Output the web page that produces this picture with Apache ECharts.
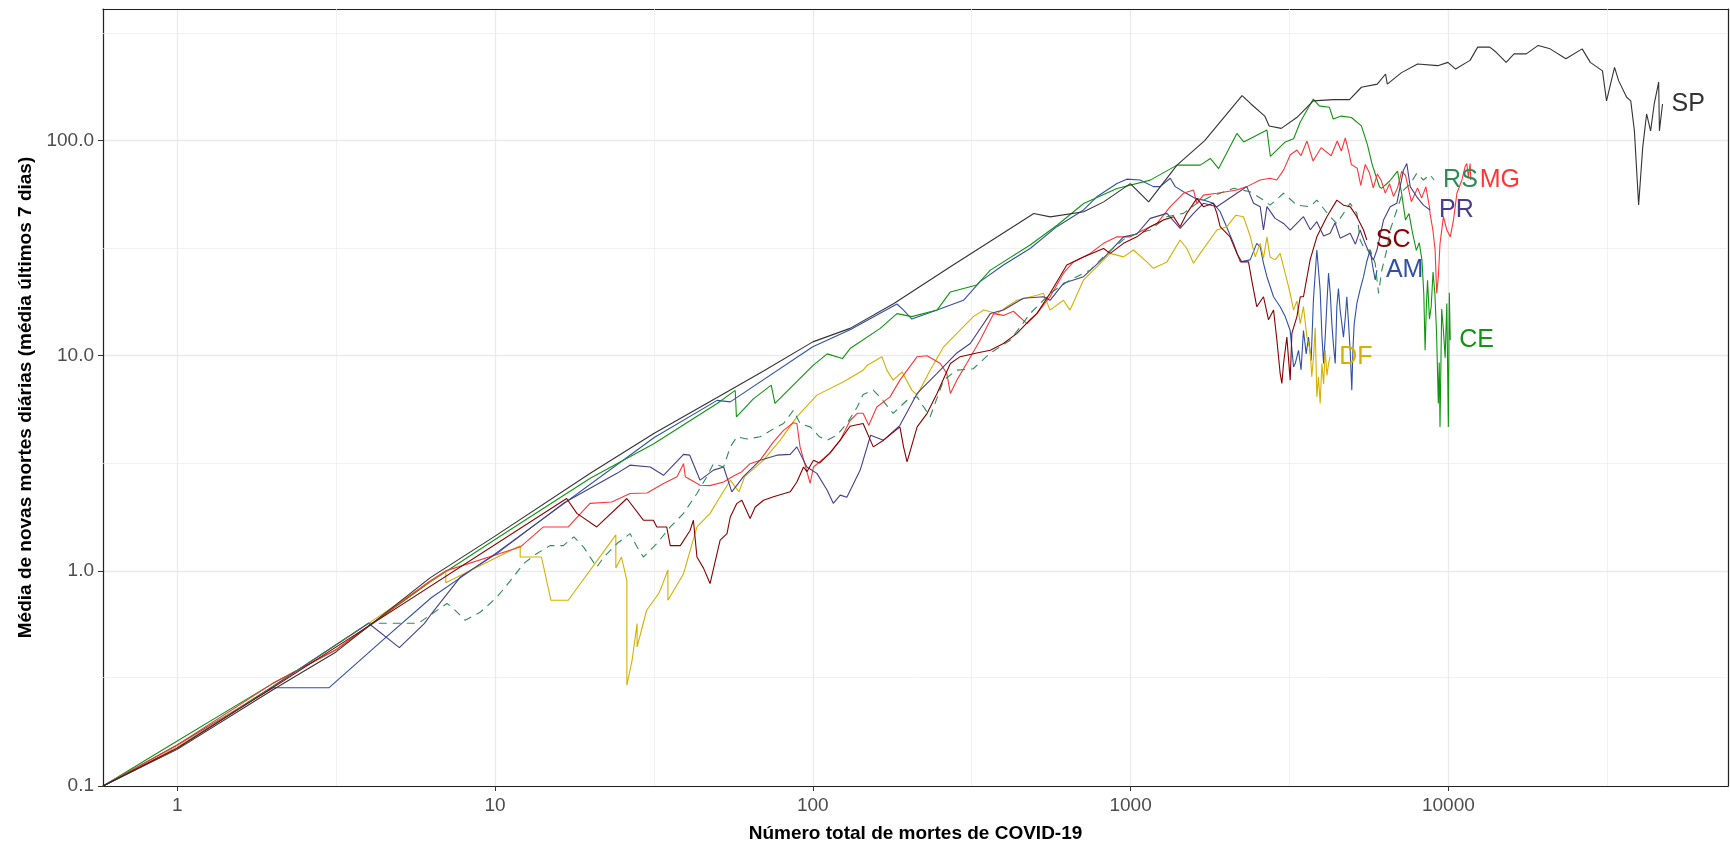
<!DOCTYPE html>
<html><head><meta charset="utf-8">
<script src="https://cdn.jsdelivr.net/npm/echarts@6/dist/echarts.min.js"></script>
<style>html,body{margin:0;padding:0;background:#fff}#c{width:1730px;height:842px}</style>
</head><body><div id="c"></div>
<script>
const states = ['AM','CE','DF','MG','PR','RS','SC','SP'];
const xTicks = [1,10,100,1000,10000];
const yTicks = [0.1,1,10,100];
const minorXBreaks = [3.1623,31.623,316.23,3162.3,31623];
const minorYBreaks = [0.31623,3.1623,31.623,316.23];

const AM = [[0.584,0.1],[1,0.155],[2,0.286],[3,0.286],[4.6,0.5],[6.3,0.75],[10,1.2],[31.7,4.17],[50,6.2],[55,6.1],[100,11.0],[131,13.2],[184,17.4],[193,16.3],[205,14.8],[246,16.3],[298,18.1],[336,22.1],[398,26.4],[483,31.5],[586,39.8],[711,47.6],[783,54.8],[906,63.2],[973,66.2],[1072,65.6],[1180,61.1],[1239,61.1],[1333,66.8],[1382,61.1],[1467,57.8],[1596,53.9],[1695,52.9],[1823,51.1],[1914,46.7],[1985,41.2],[2109,33.3],[2214,27.3],[2379,27.9],[2495,33.3],[2558,32.1],[2620,26.9],[2686,23.3],[2818,18.8],[2956,16.9],[3067,15.2],[3179,13.1],[3257,8.87],[3297,9.2],[3377,10.6],[3440,8.6],[3500,13.1],[3570,10.2],[3629,12.2],[3700,9.5],[3762,18.2],[3856,31.0],[3950,20.2],[4000,12.5],[4049,9.2],[4097,12.2],[4150,17.8],[4197,24.2],[4250,19.5],[4299,14.1],[4350,11.2],[4405,9.2],[4458,16.9],[4510,20.5],[4566,16.3],[4620,14.2],[4677,12.2],[4740,15.1],[4792,18.8],[4850,14.3],[4909,10.6],[4968,6.92],[5010,10.8],[5056,14.1],[5154,17.5],[5280,20.4],[5409,23.3],[5540,27.5],[5675,31],[5780,26],[5886,22.5],[5960,25]];

const CE = [[0.584,0.1],[1,0.162],[2,0.3],[3.16,0.43],[6.26,0.89],[10,1.4],[20,2.7],[31.6,3.9],[50,6.0],[57,6.9],[57.5,5.2],[65,6.3],[74,7.3],[76,6.0],[100,9.0],[111,10.2],[124,9.7],[131,10.8],[163,13.4],[184,15.7],[205,15.2],[246,16.3],[271,19.8],[328,21.3],[362,25],[483,32.7],[587,40.4],[712,51],[906,59.9],[1153,65.5],[1400,76.9],[1657,76.9],[1782,82.6],[1893,74.1],[2160,108],[2270,98.6],[2686,112],[2754,84.4],[3069,98.6],[3258,102],[3420,122],[3758,156],[3923,145],[4221,143],[4343,126],[4606,130],[4955,128],[5325,117],[5560,96],[5750,78.2],[5806,74.6],[6070,61],[6160,60],[6530,64.7],[6920,72.1],[7130,56.7],[7330,42.7],[7520,45.8],[7720,37],[7930,30.9],[8100,33.5],[8260,27.8],[8370,19.4],[8450,10.6],[8530,17.2],[8600,22.4],[8720,14.8],[8830,16.9],[8950,24.5],[9070,19.4],[9180,12.8],[9300,6.0],[9360,9.3],[9415,4.67],[9530,16.5],[9650,13.1],[9770,9.8],[9890,17.5],[10000,4.67],[10070,19.6],[10140,11.8]];

const DF = [[0.584,0.1],[1,0.152],[2,0.29],[4,0.57],[7,1.0],[7,0.88],[12,1.31],[12,1.16],[14,1.16],[15,0.73],[17,0.73],[24,1.47],[24,1.03],[25,1.16],[26,0.9],[26,0.294],[27,0.384],[28,0.569],[28,0.443],[30,0.656],[31.6,0.73],[32.7,0.783],[33.4,0.84],[35,1.01],[35,0.73],[39.2,0.97],[43.2,1.6],[47.5,1.85],[51.1,2.21],[55,2.64],[58.6,2.33],[61,2.74],[70,3.27],[79,4.05],[89.1,5.2],[103,6.56],[125,7.57],[144,8.57],[148,9.0],[165,9.9],[171,8.57],[179,7.7],[191,8.4],[205,6.92],[213,6.56],[234,8.57],[258,11],[284,12.7],[320,15.2],[345,16.3],[380,15.7],[408,16.9],[439,18.1],[507,19.1],[532,19.5],[558,16.3],[615,18.1],[645,16.3],[711,22.5],[783,25.9],[863,29.9],[950,28.8],[1021,31],[1125,27.3],[1180,25.5],[1302,27.3],[1432,34.5],[1503,31.5],[1578,26.9],[1656,29.9],[1869,38.4],[2009,39.8],[2145,45],[2265,44.3],[2379,36],[2467,28.8],[2558,33.3],[2620,28.4],[2686,35.7],[2748,28.8],[2851,27.9],[2956,29.9],[3103,22.5],[3179,19.5],[3257,16.3],[3338,18],[3420,14.1],[3500,16.9],[3589,12.2],[3673,10.6],[3717,7.98],[3766,9.9],[3810,13.5],[3856,6.44],[3902,7.98],[3950,6.0],[4000,9.2],[4050,7.4],[4097,10.6],[4150,8.1],[4197,9.2],[4246,9.9]];

const MG = [[0.584,0.1],[1,0.155],[2,0.3],[3.16,0.43],[6.26,0.9],[7,1.0],[12,1.29],[14.2,1.6],[17,1.6],[19.9,2.06],[23.3,2.09],[26.6,2.29],[30.1,2.3],[33.9,2.55],[37.4,2.74],[39.2,3.15],[39.7,2.74],[44.2,2.5],[47.5,2.49],[52.4,2.59],[56.3,2.76],[59.8,2.89],[63.5,3.15],[68.3,3.27],[75.2,3.98],[80.9,4.5],[86.9,4.88],[89.1,4.84],[91.2,3.77],[98.1,2.55],[100.5,3.04],[105,3.21],[113,3.52],[122,4.05],[131,5.0],[138,5.4],[144,5.4],[150,4.75],[159,5.78],[175,6.44],[188,7.7],[213,9.9],[229,10],[252,9.2],[264,8.28],[271,6.68],[284,7.7],[305,9.2],[336,11.8],[371,15.7],[398,15.4],[428,16.1],[472,14.1],[507,15.7],[558,18.8],[615,24.2],[661,27.3],[746,29.9],[822,33.3],[906,35.7],[998,35.7],[1098,38.4],[1211,41.2],[1333,49.3],[1467,56.9],[1578,58.9],[1617,51.1],[1695,55.8],[1869,56.9],[2160,58.9],[2322,61.1],[2558,65.6],[2748,66.8],[2884,65.6],[3030,72.9],[3179,85.7],[3338,90.4],[3437,85],[3589,99.5],[3752,80.4],[3978,92.7],[4277,85],[4470,99.5],[4605,89.5],[4740,103],[4880,86.3],[4950,77.5],[5165,74.5],[5300,62],[5475,77.5],[5640,71],[5805,60.3],[5980,70],[6155,65],[6330,57],[6530,63],[6720,55],[6920,60.3],[7130,72],[7330,69],[7650,52],[8000,60.3],[8240,54],[8500,61],[8730,48.6],[8757,45.9],[8940,38.4],[9085,31],[9190,19.5],[9300,23.3],[9415,33.3],[9650,44.3],[9890,38.4],[10140,35.7],[10380,42.8],[10640,56.9],[11030,65.6],[11290,75.7],[11430,78.3],[11560,67.8],[11710,78.3],[11760,65.6]];

const PR = [[0.584,0.1],[1,0.15],[2,0.29],[4,0.571],[5,0.44],[6,0.57],[6.3,0.63],[7.8,0.94],[10.1,1.2],[16.4,2.06],[24.2,2.84],[26.6,3.1],[30.8,3.04],[33.9,2.78],[39.2,3.48],[41,3.45],[44.2,2.64],[48.7,2.94],[52.4,3.04],[55.6,2.33],[60.5,2.74],[68.3,3.27],[77.1,3.45],[84.9,3.48],[89.1,3.77],[95.8,3.04],[103,2.84],[111,2.37],[116,2.06],[122,2.25],[128,2.2],[141,2.94],[152,4.27],[167,4.05],[188,4.75],[213,6.68],[246,8.28],[284,10.3],[313,11.4],[362,15.7],[398,16.3],[460,18.5],[532,18.8],[558,18.1],[615,21.7],[711,23.3],[822,28.4],[950,35.7],[1047,36.8],[1153,43.5],[1302,45.9],[1432,39.1],[1578,45.9],[1695,51.1],[1869,49.3],[2160,56.9],[2322,61.1],[2438,51.1],[2558,49.3],[2620,38.4],[2686,49.3],[2850,43.5],[3030,41.2],[3179,38.4],[3420,42.8],[3500,44.3],[3680,38.5],[3856,42],[4050,36],[4246,37.1],[4400,41.5],[4566,35.2],[4909,37.1],[5100,33],[5277,38.4],[5470,33.3],[5640,30],[5810,27.9],[5960,31],[6253,42.8],[6561,49.3],[6884,51.1],[7223,72.9],[7400,78.3],[7585,61.1],[7955,54.8],[8346,50.1],[8757,47.6]];

const RS = [[0.584,0.1],[1,0.15],[2,0.29],[4,0.571],[5.74,0.571],[7.06,0.705],[7.31,0.68],[8.06,0.589],[9,0.644],[10.1,0.75],[11.2,0.903],[12.3,1.08],[13.5,1.2],[14.9,1.31],[16.4,1.31],[17.7,1.44],[19,1.29],[20.9,1.04],[22,1.16],[24.2,1.34],[26.6,1.49],[28,1.29],[29.3,1.16],[32.3,1.34],[35.6,1.6],[39.2,1.85],[43.2,2.29],[46.4,2.74],[48.7,3.15],[52.4,3.04],[55,3.77],[57.7,4.2],[62.1,4.1],[68.3,4.2],[77.1,4.67],[80.9,4.84],[86.9,5.58],[91.2,4.84],[98.1,4.67],[105,4.2],[111,4.05],[119,4.27],[128,4.84],[138,5.78],[144,6.6],[155,6.92],[163,6.4],[179,5.4],[198,6.21],[213,6.44],[234,5.2],[258,7.7],[284,8.57],[320,8.7],[362,10.3],[418,11.8],[483,15.7],[558,19.5],[645,22.5],[746,25],[842,29.9],[973,35.7],[1153,38.4],[1302,44.3],[1467,45.9],[1617,51.1],[1779,54.8],[2109,60],[2379,57.8],[2620,52.9],[2748,50.1],[3030,56.9],[3338,50.1],[3673,49.3],[3856,52.9],[4246,44.3],[4458,41.2],[4909,51.1],[5154,45.9],[5277,34.5],[5470,31],[5675,31],[5886,26.9],[6030,19.5],[6175,25],[6400,31],[6561,38.4],[6884,47.6],[7223,58.9],[7585,62.9],[7955,70.5],[8346,65.6],[8757,69.4],[9020,65.6]];

const SC = [[0.584,0.1],[1,0.15],[2.1,0.3],[16.8,2.17],[18.1,1.85],[20.9,1.6],[26,2.17],[29.3,1.72],[31.5,1.72],[32.3,1.6],[34.7,1.6],[35.6,1.31],[38.3,1.31],[41.1,1.54],[42.1,1.72],[43.2,1.16],[45.3,1.03],[47.5,0.873],[51.1,1.39],[53.7,1.49],[55,1.78],[57.7,2.06],[59.8,2.13],[63.5,1.75],[65.9,1.98],[70,2.13],[75.2,2.21],[84.9,2.33],[89.1,2.59],[93.5,3.04],[95.8,2.89],[100.5,3.27],[105,3.17],[113,3.52],[122,4.05],[131,4.7],[144,4.84],[155,3.77],[167,4.05],[188,4.67],[193,3.77],[198,3.21],[213,4.67],[229,5.4],[246,6.68],[271,9.2],[291,9.9],[328,10.3],[362,10.6],[398,11.4],[439,12.7],[483,14.7],[507,15.7],[558,19.5],[630,26.4],[711,28.8],[822,31.5],[863,29.9],[950,33.3],[1047,35.7],[1153,39.8],[1270,42.8],[1365,44.3],[1432,39.8],[1503,45.9],[1617,53.9],[1695,49.3],[1823,51.1],[1869,45.9],[1914,39.8],[2056,35.7],[2160,29.9],[2238,27.3],[2350,27.3],[2405,22.5],[2495,16.9],[2620,18.8],[2716,14.7],[2818,16.3],[2884,12],[2956,8.28],[2993,7.43],[3030,9.2],[3103,12.2],[3179,7.7],[3218,12.7],[3338,15.2],[3420,18.8],[3500,18.8],[3673,27.9],[3856,35.7],[4147,44.3],[4458,52.9],[4677,50.1],[4909,49.3],[5154,44.3],[5409,38.4],[5540,34.5]];

const SP = [[0.584,0.1],[1,0.148],[2,0.28],[3.16,0.42],[6.26,0.93],[10,1.45],[20,2.85],[31.6,4.35],[50,6.4],[70,8.5],[100,11.6],[131,13.4],[180,17.5],[271,25.9],[350,33],[496,45.8],[559,44.2],[712,46.7],[823,51.9],[998,63.1],[1140,51.9],[1400,76.9],[1711,100],[2243,162],[2393,148],[2644,130],[2730,117],[2980,114],[3335,128],[3758,153],[4343,155],[4887,155],[5325,177],[5975,183],[6345,204],[6425,183],[7126,207],[8000,227],[9260,223],[9970,231],[10540,215],[11700,236],[12370,272],[13500,272],[14120,258],[15200,231],[16100,253],[17590,253],[19170,277],[20900,267],[23440,240],[26370,267],[27970,231],[30550,211],[31460,153],[33340,219],[34340,190],[36400,159],[37500,153],[38500,111],[39700,50.2],[40880,92.5],[42060,133],[43300,111],[44450,148],[45900,187],[46150,111],[47200,148]];

const seriesData = {AM, CE, DF, MG, PR, RS, SC, SP};
const colors = {AM:'#3050a8', CE:'#0e960e', DF:'#d4b000', MG:'#ff3535', PR:'#483d8b', RS:'#2e8b57', SC:'#8b0000', SP:'#333333'};
const FONT = 'Liberation Sans, Arial, sans-serif';

function isTick(v, ticks){ return ticks.some(t => Math.abs(Math.log10(v/t)) < 1e-6); }

const series = [{
  type:'line', data:[], silent:true, z:1,
  markLine:{silent:true, z:1, symbol:['none','none'], label:{show:false}, animation:false,
    lineStyle:{color:'#ebebeb', width:0.7, type:'solid'},
    data:[...minorXBreaks.map(v=>({xAxis:v})), ...minorYBreaks.map(v=>({yAxis:v}))]}
}];
states.forEach((s,i)=>{
  series.push({
    name:s, type:'line', data:seriesData[s], showSymbol:false, symbol:'none', z:3+i,
    lineStyle:{color:colors[s], width:1.1, type: s==='RS' ? [8,6] : 'solid'},
    itemStyle:{color:colors[s]},
    endLabel:{show:true, formatter:s, color:colors[s], fontSize:25, fontFamily:FONT, distance:9},
    emphasis:{disabled:true}
  });
});

const frameAxis = {show:true, axisLine:{show:true, lineStyle:{color:'#222', width:1.2}}, axisTick:{show:false}, axisLabel:{show:false}, splitLine:{show:false}};

const chart = echarts.init(document.getElementById('c'));
chart.setOption({
  animation:false,
  backgroundColor:'#fff',
  grid:{left:103, right:2, top:9, bottom:56, containLabel:false, outerBoundsMode:'none'},
  xAxis:[{type:'log', logBase:10, min:0.584, max:75860,
    name:'Número total de mortes de COVID-19', nameLocation:'middle', nameGap:38,
    nameTextStyle:{fontFamily:FONT, fontSize:19, fontWeight:'bold', color:'#000'},
    axisLine:{show:true, lineStyle:{color:'#222', width:1.2}},
    axisTick:{show:true, length:5, lineStyle:{color:'#333'}},
    axisLabel:{fontFamily:FONT, fontSize:19, color:'#4d4d4d', margin:10, showMinLabel:false, showMaxLabel:false,
      formatter:v=> isTick(v,xTicks) ? String(Math.round(v)) : ''},
    splitLine:{show:true, lineStyle:{color:'#ebebeb', width:1.3}}
  },
  Object.assign({type:'log', logBase:10, min:0.584, max:75860, position:'top'}, frameAxis)],
  yAxis:[{type:'log', logBase:10, min:0.1, max:409,
    name:'Média de novas mortes diárias (média últimos 7 dias)', nameLocation:'middle', nameGap:68, nameRotate:90,
    nameTextStyle:{fontFamily:FONT, fontSize:19, fontWeight:'bold', color:'#000'},
    axisLine:{show:true, lineStyle:{color:'#222', width:1.2}},
    axisTick:{show:true, length:5, lineStyle:{color:'#333'}},
    axisLabel:{fontFamily:FONT, fontSize:19, color:'#4d4d4d', margin:9, showMinLabel:true, showMaxLabel:false,
      verticalAlignMinLabel:'middle',
      formatter:v=> isTick(v,yTicks) ? v.toFixed(1) : ''},
    splitLine:{show:true, lineStyle:{color:'#ebebeb', width:1.3}}
  },
  Object.assign({type:'log', logBase:10, min:0.1, max:409, position:'right'}, frameAxis)],
  series
});
</script></body></html>
